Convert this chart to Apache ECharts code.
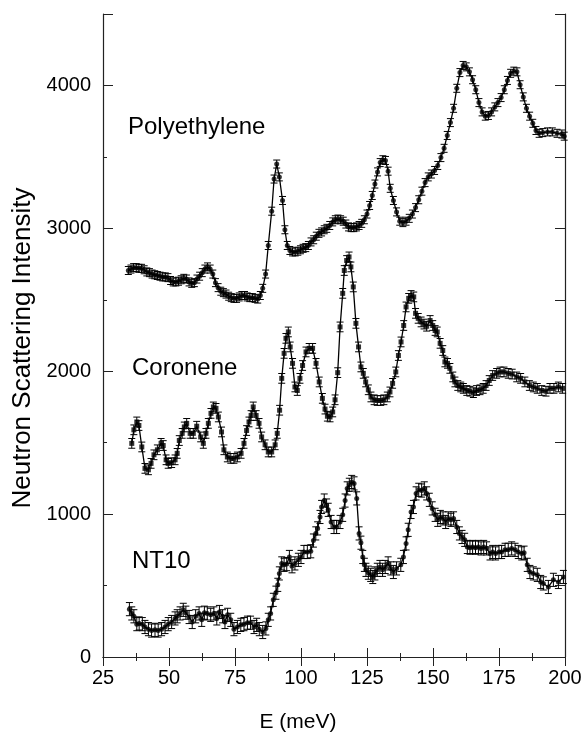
<!DOCTYPE html>
<html>
<head>
<meta charset="utf-8">
<script src="https://cdn.jsdelivr.net/npm/echarts@6/dist/echarts.min.js"></script>
<style>
html,body{margin:0;padding:0;background:#fff;}
#chart{width:585px;height:734px;}
</style>
</head>
<body>
<div id="chart"></div>
<script>
// ---- data (E in meV, intensity) ----
const xTicks = [25, 50, 75, 100, 125, 150, 175, 200];
const yTicks = [0, 1000, 2000, 3000, 4000];
const seriesNames = ['Polyethylene', 'Coronene', 'NT10'];
const errPolyethylene = 28;
const errCoronene = 34;
const errNT10 = 46;

const polyethylene = [
[34.6,2705],[35.6,2715],[36.6,2725],[37.6,2725],[38.6,2720],[39.6,2720],[40.6,2710],[41.6,2695],[42.6,2690],[43.6,2680],
[44.6,2675],[45.6,2670],[46.6,2665],[47.6,2660],[48.6,2660],[49.6,2655],[50.6,2635],[51.6,2625],[52.6,2625],[53.6,2630],
[54.6,2640],[55.6,2650],[56.6,2645],[57.6,2625],[58.6,2615],[59.6,2620],[60.6,2645],[61.6,2665],[62.6,2690],[63.6,2715],
[64.6,2730],[65.6,2715],[66.6,2680],[67.6,2620],[68.6,2585],[69.6,2560],[70.6,2550],[71.6,2540],[72.6,2525],[73.6,2515],
[74.6,2510],[75.6,2510],[76.6,2520],[77.6,2530],[78.6,2530],[79.6,2520],[80.6,2515],[81.6,2515],[82.6,2510],[83.6,2505],
[84.6,2530],[85.5,2580],[86.6,2680],[87.6,2880],[88.9,3120],[89.8,3345],[90.8,3450],[91.8,3360],[93.0,3195],[93.9,2990],
[94.8,2880],[95.8,2845],[96.8,2835],[97.8,2835],[98.8,2840],[99.8,2850],[100.8,2860],[101.8,2865],[102.8,2880],[103.8,2905],
[104.8,2920],[105.8,2945],[106.8,2965],[107.8,2975],[108.8,2990],[109.8,3000],[110.9,3020],[112.0,3045],[113.0,3060],[114.0,3065],
[115.0,3060],[116.0,3050],[117.0,3030],[118.0,3010],[119.0,3005],[120.0,3005],[121.0,3010],[122.0,3020],[123.0,3035],[124.0,3060],
[125.0,3100],[126.0,3160],[127.0,3230],[128.0,3310],[129.0,3395],[130.0,3460],[131.0,3480],[132.0,3475],[133.0,3400],[133.8,3280],
[135.0,3195],[136.2,3115],[137.4,3050],[138.6,3040],[139.8,3050],[141.0,3070],[142.2,3100],[143.4,3145],[144.6,3200],[145.8,3260],
[147.0,3320],[148.2,3360],[149.4,3380],[150.6,3405],[151.8,3440],[153.0,3495],[154.2,3560],[155.4,3650],[156.6,3740],[157.8,3840],
[159.0,3980],[160.2,4090],[161.4,4140],[162.6,4130],[163.8,4095],[165.0,4040],[166.2,3970],[167.4,3880],[168.6,3815],[169.8,3785],
[171.0,3790],[172.2,3815],[173.4,3850],[174.6,3880],[175.8,3915],[177.0,3970],[178.2,4035],[179.4,4085],[180.6,4100],[181.8,4095],
[183.0,4005],[184.2,3920],[185.4,3840],[186.6,3785],[187.8,3735],[189.0,3685],[190.2,3665],[191.6,3670],[193.4,3675],[195.2,3675],
[197.0,3665],[198.8,3660],[199.7,3645]
];

const coronene = [
[35.9,1495],[36.7,1590],[37.8,1645],[38.6,1620],[39.7,1470],[40.9,1320],[42.2,1310],[43.2,1355],[44.3,1415],[45.6,1450],
[47.0,1495],[47.8,1480],[48.9,1380],[49.7,1355],[51.0,1360],[52.3,1380],[53.1,1425],[53.9,1515],[55.0,1565],[55.8,1610],
[56.7,1635],[58.0,1565],[59.2,1565],[60.5,1615],[62.0,1540],[63.0,1495],[64.0,1565],[64.9,1635],[65.9,1705],[66.8,1750],
[67.8,1740],[68.7,1680],[69.9,1575],[70.8,1450],[72.1,1400],[73.4,1390],[74.6,1390],[75.9,1400],[77.3,1425],[78.4,1495],
[79.4,1585],[80.3,1645],[81.1,1690],[81.9,1750],[83.0,1690],[84.1,1635],[85.1,1540],[86.4,1485],[87.6,1435],[88.9,1435],
[90.2,1485],[91.0,1565],[91.9,1727],[92.7,1950],[93.6,2125],[94.3,2230],[95.2,2275],[95.9,2170],[96.8,2055],[97.7,1890],
[98.6,1865],[99.6,1950],[100.6,2040],[101.9,2135],[103.1,2160],[104.4,2160],[105.7,2055],[106.9,1925],[108.1,1810],[109.1,1735],
[110.0,1685],[111.0,1680],[112.0,1715],[112.9,1800],[113.9,1990],[114.8,2310],[115.8,2545],[116.4,2705],[117.3,2775],[118.2,2800],
[118.9,2730],[119.8,2590],[120.8,2335],[121.8,2170],[122.7,2030],[123.6,1985],[124.5,1925],[125.5,1870],[126.5,1820],[127.7,1800],
[128.9,1795],[130.2,1795],[131.4,1800],[132.7,1820],[133.7,1855],[134.7,1915],[135.9,1995],[136.9,2110],[137.9,2205],[138.9,2320],
[139.8,2450],[140.8,2510],[141.7,2530],[142.7,2520],[143.4,2405],[144.4,2370],[145.5,2345],[146.6,2330],[147.6,2315],[148.9,2355],
[149.9,2320],[150.8,2285],[151.6,2275],[152.7,2195],[153.7,2145],[154.5,2065],[155.5,2055],[156.4,2020],[157.5,1960],[158.3,1925],
[159.4,1900],[160.5,1890],[161.5,1880],[162.8,1865],[164.0,1860],[165.3,1850],[166.5,1865],[167.8,1870],[169.0,1880],[170.1,1900],
[171.3,1935],[172.6,1970],[174.1,1985],[175.4,1995],[176.9,1995],[178.5,1985],[180.0,1980],[181.7,1960],[183.2,1950],[184.8,1925],
[186.5,1900],[188.0,1890],[189.5,1880],[191.2,1865],[192.8,1860],[194.3,1880],[195.8,1880],[197.5,1890],[199.1,1880]
];

const nt10 = [
[35.0,335],[35.9,305],[36.7,285],[37.8,230],[38.7,235],[39.9,230],[40.9,210],[42.2,195],[43.4,185],[44.7,190],
[45.9,185],[47.2,195],[48.5,210],[49.7,230],[51.0,245],[52.3,270],[53.1,285],[54.2,305],[55.4,330],[56.4,310],
[57.6,280],[58.8,245],[60.1,285],[61.4,305],[62.4,260],[63.4,310],[64.5,305],[65.8,295],[67.0,305],[68.1,270],
[69.1,315],[70.3,285],[71.2,245],[72.2,295],[73.4,260],[74.6,195],[75.9,210],[77.2,225],[78.4,230],[79.7,240],
[80.9,240],[82.2,210],[83.2,225],[84.2,195],[85.5,175],[86.7,200],[87.6,260],[88.5,305],[89.5,400],[90.5,450],
[91.2,505],[91.8,585],[92.7,655],[93.6,645],[94.6,650],[95.6,700],[96.6,635],[97.7,655],[99.0,680],[100.0,700],
[101.1,735],[102.4,735],[103.7,740],[104.7,815],[105.6,865],[106.3,900],[107.2,980],[107.8,1050],[108.8,1095],[109.7,1060],
[110.3,1030],[111.4,945],[112.5,910],[113.5,910],[114.8,945],[115.8,995],[116.7,1095],[117.5,1180],[118.3,1205],[119.2,1225],
[120.1,1215],[121.1,1110],[122.0,865],[122.7,800],[123.4,700],[124.0,645],[124.6,610],[125.5,590],[126.4,575],[127.2,560],
[128.0,585],[128.9,610],[129.9,630],[130.9,610],[131.9,630],[133.0,655],[134.0,620],[135.0,595],[136.2,620],[137.8,645],
[138.8,700],[139.8,795],[140.6,890],[141.7,1015],[142.6,1050],[143.6,1145],[144.6,1170],[145.7,1165],[146.7,1180],[147.6,1145],
[148.6,1100],[149.7,1040],[150.8,995],[151.8,960],[152.8,980],[153.8,970],[154.8,945],[155.8,970],[156.8,960],[157.8,970],
[159.0,910],[160.0,865],[161.0,840],[162.0,820],[163.0,770],[164.0,765],[165.0,770],[166.1,765],[167.2,770],[168.2,760],
[169.2,770],[170.3,760],[171.6,725],[172.6,735],[173.7,725],[175.0,735],[176.0,735],[177.3,750],[178.5,750],[179.8,760],
[181.1,750],[182.3,735],[183.6,725],[184.5,730],[185.7,645],[186.7,595],[188.0,585],[189.5,575],[190.8,525],[191.8,515],
[193.7,490],[195.6,540],[197.5,525],[199.4,560]
];

// ---- chart ----
const FONT = '"Liberation Sans", Arial, Helvetica, sans-serif';
const chart = echarts.init(document.getElementById('chart'), null, {renderer: 'canvas'});

function withErr(data, err) { return data.map(d => [d[0], d[1], err]); }

function renderErr(params, api) {
  const x = api.value(0), y = api.value(1), e = api.value(2);
  const t = api.coord([x, y + e]);
  const b = api.coord([x, y - e]);
  const w = 3.5;
  const st = {stroke: '#000', lineWidth: 1};
  return {
    type: 'group',
    children: [
      {type: 'line', shape: {x1: t[0], y1: t[1], x2: b[0], y2: b[1]}, style: st},
      {type: 'line', shape: {x1: t[0] - w, y1: t[1], x2: t[0] + w, y2: t[1]}, style: st},
      {type: 'line', shape: {x1: b[0] - w, y1: b[1], x2: b[0] + w, y2: b[1]}, style: st}
    ]
  };
}

const sets = [
  {name: seriesNames[0], data: polyethylene, err: errPolyethylene, symbol: 'circle', size: 5},
  {name: seriesNames[1], data: coronene, err: errCoronene, symbol: 'rect', size: 5},
  {name: seriesNames[2], data: nt10, err: errNT10, symbol: 'circle', size: 5}
];

const series = [];
sets.forEach(s => {
  series.push({
    name: s.name, type: 'line', data: s.data, showSymbol: false, symbol: 'none',
    lineStyle: {color: '#000', width: 1.3}, silent: true, z: 2
  });
  series.push({
    name: s.name + ' err', type: 'custom', data: withErr(s.data, s.err),
    renderItem: renderErr, encode: {x: 0, y: 1}, silent: true, z: 3
  });
  series.push({
    name: s.name + ' pts', type: 'scatter', data: s.data, symbol: s.symbol, symbolSize: s.size,
    itemStyle: {color: '#000'}, silent: true, z: 4
  });
});

const axisLineStyle = {color: '#222', width: 1.2};

const option = {
  animation: false,
  backgroundColor: '#fff',
  grid: {left: 103, right: 20, top: 14, bottom: 77, containLabel: false},
  xAxis: [
    {
      type: 'value', position: 'bottom', min: xTicks[0], max: xTicks[xTicks.length - 1], interval: 25,
      axisLine: {show: true, lineStyle: axisLineStyle},
      axisTick: {show: true, inside: true, length: 9, lineStyle: {color: '#222', width: 1}},
      minorTick: {show: true, splitNumber: 2, length: 4, lineStyle: {color: '#222', width: 1}},
      axisLabel: {fontFamily: FONT, fontSize: 20, color: '#000', margin: 11},
      splitLine: {show: false}, minorSplitLine: {show: false}
    },
    {
      type: 'value', position: 'top', min: xTicks[0], max: xTicks[xTicks.length - 1], interval: 25,
      axisLine: {show: true, lineStyle: axisLineStyle},
      axisTick: {show: true, inside: true, length: 9, lineStyle: {color: '#222', width: 1}},
      minorTick: {show: true, splitNumber: 2, length: 4, lineStyle: {color: '#222', width: 1}},
      axisLabel: {show: false}, splitLine: {show: false}
    }
  ],
  yAxis: [
    {
      type: 'value', position: 'left', min: 0, max: 4500, interval: 500,
      axisLine: {show: true, lineStyle: axisLineStyle},
      axisTick: {show: true, inside: true, length: 4, lineStyle: {color: '#222', width: 1}},
      axisLabel: {
        fontFamily: FONT, fontSize: 20, color: '#000', margin: 12,
        formatter: v => (yTicks.indexOf(v) >= 0 ? String(v) : '')
      },
      splitLine: {show: false}
    },
    {
      type: 'value', position: 'left', min: 0, max: 4500, interval: 1000,
      axisLine: {show: false},
      axisTick: {show: true, inside: true, length: 10, lineStyle: {color: '#222', width: 1}},
      axisLabel: {show: false}, splitLine: {show: false}
    },
    {
      type: 'value', position: 'right', min: 0, max: 4500, interval: 500,
      axisLine: {show: true, lineStyle: axisLineStyle},
      axisTick: {show: true, inside: true, length: 10, lineStyle: {color: '#222', width: 1}},
      axisLabel: {show: false}, splitLine: {show: false}
    }
  ],
  graphic: [
    {type: 'text', left: 128, top: 115, style: {text: seriesNames[0], font: '24px ' + FONT, fill: '#000'}},
    {type: 'text', left: 132, top: 356, style: {text: seriesNames[1], font: '24px ' + FONT, fill: '#000'}},
    {type: 'text', left: 132, top: 549, style: {text: seriesNames[2], font: '24px ' + FONT, fill: '#000'}},
    {type: 'text', x: 298, y: 722, style: {text: 'E (meV)', font: '21px ' + FONT, fill: '#000', align: 'center', verticalAlign: 'middle'}},
    {type: 'text', x: 23, y: 348, rotation: Math.PI / 2,
     style: {text: 'Neutron Scattering Intensity', font: '26px ' + FONT, fill: '#000', align: 'center', verticalAlign: 'middle'}}
  ],
  series: series
};
chart.setOption(option);
</script>
</body>
</html>
